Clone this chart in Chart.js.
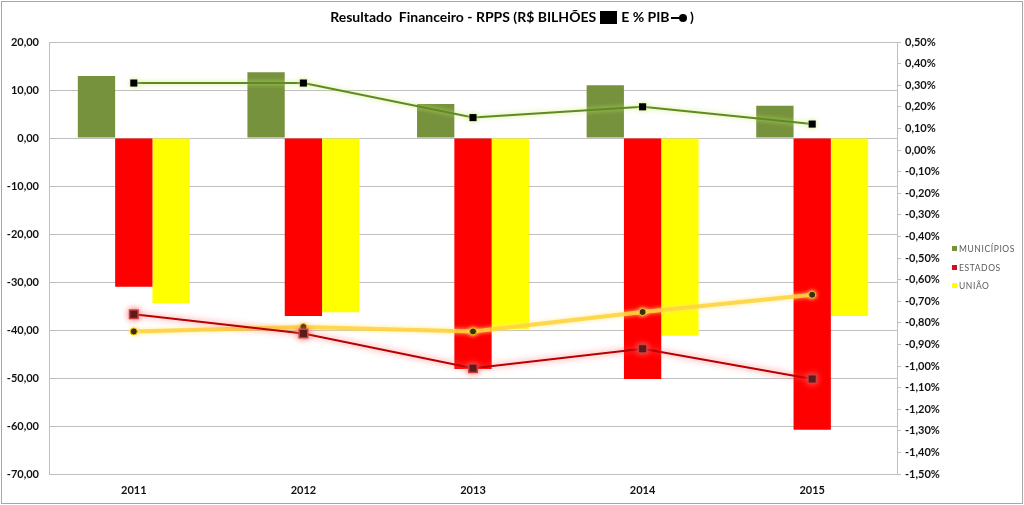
<!DOCTYPE html>
<html>
<head>
<meta charset="utf-8">
<script src="https://cdn.jsdelivr.net/npm/chart.js@4"></script>
<style>
    html, body { margin: 0; padding: 0; background: #fff; }
    #wrap { position: relative; width: 1024px; height: 505px; overflow: hidden; }
    #frame { position: absolute; left: 1px; top: 1px; width: 1020px; height: 501px; border: 1px solid #a6a6a6; pointer-events: none; }
    #title { position: absolute; top: 8px; left: 0; width: 1024px; text-align: center;
             font: bold 14px Lato, 'Liberation Sans', sans-serif; color: #000; white-space: pre; }
    .sq { display: inline-block; width: 17px; height: 13px; background: #000; vertical-align: -2px; margin: 0 4px; }
    .ln { display: inline-block; position: relative; width: 16px; height: 13px; vertical-align: -2px; margin-left: 1px; }
    .ln::before { content: ''; position: absolute; left: 0; top: 6px; width: 12px; height: 2px; background: #000; }
    .ln::after { content: ''; position: absolute; right: 0; top: 3px; width: 8px; height: 8px; border-radius: 50%; background: #000; }
    #legend { position: absolute; left: 952px; top: 243px; font: 8.5px Lato, 'Liberation Sans', sans-serif;
              color: #595959; letter-spacing: 0.6px; }
    #legend div { height: 18.5px; line-height: 12px; white-space: nowrap; }
    #legend span { display: inline-block; width: 5px; height: 5px; margin-right: 2px; vertical-align: 1px; }
</style>
</head>
<body>
<div id="wrap">
    <canvas id="chart" width="1024" height="505"></canvas>
    <div id="title">Resultado  Financeiro - RPPS (R$ BILHÕES<span class="sq"></span>E % PIB<span class="ln"></span> )</div>
    <div id="legend"></div>
    <div id="frame"></div>
</div>
<script>
// Anos
const years = ['2011', '2012', '2013', '2014', '2015'];

// Resultado financeiro (R$ bilhões) - barras, eixo esquerdo
const municipiosValor = [12.9, 13.7, 7.1, 11.0, 6.7];
const estadosValor = [-31.0, -37.1, -48.1, -50.2, -60.8];
const uniaoValor = [-34.4, -36.3, -39.8, -41.2, -37.1];

// Resultado financeiro (% do PIB) - linhas, eixo direito
const municipiosPib = [0.31, 0.31, 0.15, 0.20, 0.12];
const estadosPib = [-0.76, -0.85, -1.01, -0.92, -1.06];
const uniaoPib = [-0.84, -0.82, -0.84, -0.75, -0.67];

// Rótulos da legenda
const legendNames = ['MUNICÍPIOS', 'ESTADOS', 'UNIÃO'];

// Cores
const COLORS = {
    municipios: '#76923c',
    estados: '#ff0000',
    uniao: '#ffff00'
};

const FONT = "Lato, 'Liberation Sans', sans-serif";

// formata número com vírgula decimal
function fmt(v) {
    return v.toFixed(2).replace('.', ',');
}

// brilho (sombra) atrás das linhas
const glowPlugin = {
    id: 'glow',
    beforeDatasetDraw(chart, args) {
        const ds = chart.data.datasets[args.index];
        if (!ds.glowColor) return;
        const ctx = chart.ctx;
        ctx.save();
        ctx.shadowColor = ds.glowColor;
        ctx.shadowBlur = ds.glowBlur || 6;
    },
    afterDatasetDraw(chart, args) {
        const ds = chart.data.datasets[args.index];
        if (!ds.glowColor) return;
        chart.ctx.restore();
    }
};

const ctx = document.getElementById('chart');

const chart = new Chart(ctx, {
    type: 'bar',
    plugins: [glowPlugin],
    data: {
        labels: years,
        datasets: [
            {
                type: 'line',
                label: 'Municípios % PIB',
                data: municipiosPib,
                yAxisID: 'y1',
                order: 0,
                borderColor: '#5f8a23',
                borderWidth: 2,
                glowColor: 'rgba(200, 235, 110, 0.95)',
                glowBlur: 5,
                pointStyle: 'rect',
                pointRadius: 5,
                pointBackgroundColor: '#000',
                pointBorderColor: '#000',
                pointBorderWidth: 0,
                tension: 0
            },
            {
                type: 'line',
                label: 'Estados % PIB',
                data: estadosPib,
                yAxisID: 'y1',
                order: 0,
                borderColor: '#b80000',
                borderWidth: 2,
                glowColor: 'rgba(255, 90, 90, 0.9)',
                glowBlur: 6,
                pointStyle: 'rect',
                pointRadius: 6,
                pointBackgroundColor: '#2a0808',
                pointBorderColor: '#c84040',
                pointBorderWidth: 1.5,
                tension: 0
            },
            {
                type: 'line',
                label: 'União % PIB',
                data: uniaoPib,
                yAxisID: 'y1',
                order: 0,
                borderColor: 'rgba(255, 210, 60, 0.85)',
                borderWidth: 4,
                glowColor: 'rgba(255, 230, 120, 1)',
                glowBlur: 4,
                pointStyle: 'circle',
                pointRadius: 3.5,
                pointBackgroundColor: '#000',
                pointBorderColor: '#f5c400',
                pointBorderWidth: 1,
                tension: 0
            },
            {
                label: legendNames[0],
                data: municipiosValor,
                backgroundColor: COLORS.municipios,
                yAxisID: 'y',
                order: 1
            },
            {
                label: legendNames[1],
                data: estadosValor,
                backgroundColor: COLORS.estados,
                yAxisID: 'y',
                order: 1
            },
            {
                label: legendNames[2],
                data: uniaoValor,
                backgroundColor: COLORS.uniao,
                yAxisID: 'y',
                order: 1
            }
        ]
    },
    options: {
        responsive: false,
        animation: false,
        categoryPercentage: 0.66,
        barPercentage: 1.0,
        layout: {
            padding: { top: 42, left: 0, right: 0, bottom: 0 }
        },
        plugins: {
            legend: { display: false },
            title: { display: false },
            tooltip: { enabled: false }
        },
        scales: {
            x: {
                grid: { display: false, drawTicks: false },
                border: { display: false },
                ticks: {
                    padding: 10,
                    color: '#111',
                    font: { family: FONT, size: 11, weight: 'bold' }
                },
                afterFit: function(scale) { scale.height = 31; }
            },
            y: {
                position: 'left',
                min: -70,
                max: 20,
                ticks: {
                    stepSize: 10,
                    padding: 10,
                    color: '#111',
                    font: { family: FONT, size: 11, weight: 'bold' },
                    callback: function(value) { return fmt(value); }
                },
                grid: { color: '#bfbfbf', lineWidth: 1, drawTicks: false },
                border: { display: true, color: '#bfbfbf' },
                afterFit: function(scale) { scale.width = 49; }
            },
            y1: {
                position: 'right',
                min: -1.5,
                max: 0.5,
                ticks: {
                    stepSize: 0.1,
                    autoSkip: false,
                    padding: 4,
                    color: '#111',
                    font: { family: FONT, size: 11, weight: 'bold' },
                    callback: function(value) { return fmt(value) + '%'; }
                },
                grid: { drawOnChartArea: false, color: '#bfbfbf', tickLength: 4 },
                border: { display: true, color: '#bfbfbf' },
                afterFit: function(scale) { scale.width = 127; }
            }
        }
    }
});

// legenda em HTML (somente as barras)
const legendEl = document.getElementById('legend');
const legendColors = [COLORS.municipios, '#d01020', COLORS.uniao];
legendNames.forEach(function(name, i) {
    const row = document.createElement('div');
    const box = document.createElement('span');
    box.style.background = legendColors[i];
    row.appendChild(box);
    row.appendChild(document.createTextNode(name));
    legendEl.appendChild(row);
});
</script>
</body>
</html>
